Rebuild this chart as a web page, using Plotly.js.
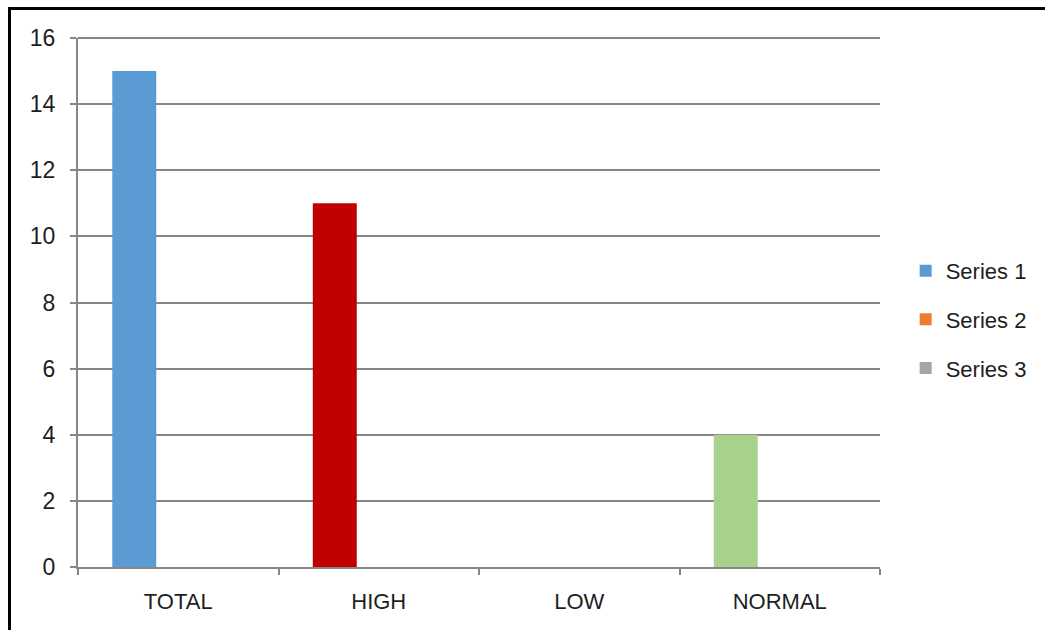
<!DOCTYPE html>
<html>
<head>
<meta charset="utf-8">
<script src="https://cdn.plot.ly/plotly-3.0.1.min.js"></script>
<style>
  html, body { margin: 0; padding: 0; background: #fff; }
  #wrap { position: relative; width: 1045px; height: 630px; overflow: hidden; }
  #chart { position: absolute; left: 0; top: 0; width: 1045px; height: 630px; }
  .bt { position: absolute; left: 8px; top: 7px; width: 1037px; height: 3px; background: #000; }
  .bl { position: absolute; left: 8px; top: 7px; width: 3px; height: 623px; background: #000; }
</style>
</head>
<body>
<div id="wrap">
  <div id="chart"></div>
  <div class="bt"></div>
  <div class="bl"></div>
</div>
<script>
const categories = ["TOTAL", "HIGH", "LOW", "NORMAL"];
const series1 = [15, 11, 0, 4];
const series2 = [0, 0, 0, 0];
const series3 = [0, 0, 0, 0];
const seriesNames = ["Series 1", "Series 2", "Series 3"];
const pointColors1 = ["#5B9BD5", "#C00000", "#5B9BD5", "#A9D18E"];
const legendColors = ["#5B9BD5", "#ED7D31", "#A5A5A5"];
const yMax = 16;

const font = "Liberation Sans, Arial, sans-serif";
const textColor = "#1e1e1e";

const traces = [
  { type: "bar", x: categories, y: series1, name: seriesNames[0], legendgroup: "g1",
    marker: { color: pointColors1 } },
  { type: "bar", x: categories, y: series2, name: seriesNames[1], legendgroup: "g2",
    marker: { color: legendColors[1] } },
  { type: "bar", x: categories, y: series3, name: seriesNames[2], legendgroup: "g3",
    marker: { color: legendColors[2] } }
];

const layout = {
  width: 1045, height: 630,
  margin: { l: 78, r: 165, t: 38, b: 63, pad: 0 },
  paper_bgcolor: "#fff", plot_bgcolor: "#fff",
  barmode: "group", bargap: 0.342, bargroupgap: 0,
  font: { family: font, size: 22, color: textColor },
  showlegend: true,
  legend: {
    x: 1.032, xanchor: "left", y: 0.468, yanchor: "middle",
    traceorder: "grouped", tracegroupgap: 17,
    font: { family: font, size: 22, color: textColor },
    bgcolor: "rgba(0,0,0,0)"
  },
  shapes: [
    { type: "line", xref: "paper", yref: "paper", x0: 0, x1: 1, y0: 1, y1: 1,
      line: { color: "#868686", width: 2 }, layer: "below" }
  ],
  xaxis: {
    type: "category", range: [-0.5, 3.5],
    showgrid: false, zeroline: false,
    showline: true, linecolor: "#868686", linewidth: 2,
    ticks: "outside", tickson: "boundaries", ticklen: 6, tickwidth: 2, tickcolor: "#868686",
    ticklabelstandoff: 14,
    tickfont: { family: font, size: 22, color: textColor },
    fixedrange: true
  },
  yaxis: {
    range: [0, yMax], dtick: 2, tick0: 0,
    showgrid: true, gridcolor: "#868686", gridwidth: 2,
    zeroline: false,
    showline: true, linecolor: "#868686", linewidth: 2,
    ticks: "outside", ticklen: 6, tickwidth: 2, tickcolor: "#868686",
    ticklabelstandoff: 10,
    tickfont: { family: font, size: 23, color: textColor },
    fixedrange: true
  }
};

Plotly.newPlot("chart", traces, layout, { displayModeBar: false, staticPlot: true });
</script>
</body>
</html>
